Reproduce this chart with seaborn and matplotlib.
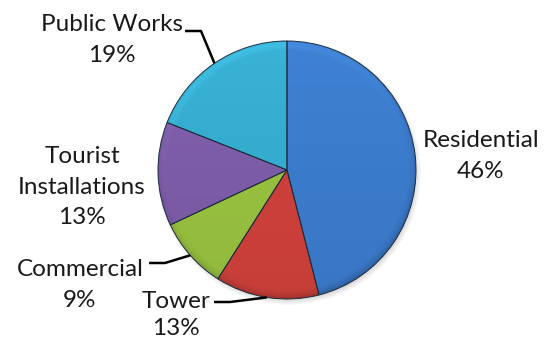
import numpy as np
import matplotlib
matplotlib.use("Agg")
import matplotlib.pyplot as plt
import seaborn as sns
from matplotlib.colors import to_rgb

# Building permits by category (share of total, %)
categories = ["Residential", "Tower", "Commercial", "Tourist\nInstallations", "Public Works"]
shares = [46, 13, 9, 13, 19]
slice_colors = ["#3b7bcb", "#cd403b", "#97bf3f", "#7c5ba7", "#35abcd"]

sns.set_theme(style="white")
plt.rcParams["font.family"] = ["Lato", "DejaVu Sans"]

W, H = 546, 341
fig = plt.figure(figsize=(W / 100, H / 100), dpi=100)
ax = fig.add_axes([0, 0, 1, 1])

cx, cy, R = 287, 171, 129
palette = sns.color_palette(slice_colors)

# soft drop shadow under the disc
for k in range(8):
    ax.add_patch(plt.Circle((cx + 2, cy - 3), R + 3 - k * 0.8,
                            color="black", alpha=0.02, lw=0, zorder=0))

wedges, _ = ax.pie(shares, colors=palette, startangle=90, counterclock=False,
                   center=(cx, cy), radius=R,
                   wedgeprops=dict(edgecolor="#1d2d3d", linewidth=0.7))

# bevel-style shading clipped to every wedge
n = 400
u, v = np.meshgrid(np.linspace(-1, 1, n), np.linspace(1, -1, n))
rho = np.sqrt(u ** 2 + v ** 2) + 1e-9
light = np.array([-0.3, 0.95])
facing = (u * light[0] + v * light[1]) / rho
rim = np.clip((rho - 0.93) / 0.07, 0, 1)
bright = 1.0 + 0.03 * v + rim * 0.12 * facing - rim ** 3 * 0.10

for w, col in zip(wedges, palette):
    base = np.array(to_rgb(col))
    img = np.clip(base[None, None, :] * bright[..., None]
                  + np.clip(bright - 1, 0, None)[..., None] * 0.3, 0, 1)
    im = ax.imshow(img, extent=[cx - R, cx + R, cy - R, cy + R],
                   origin="upper", zorder=1.5, interpolation="bilinear")
    im.set_clip_path(w)
    w.set_zorder(2)
    w.set_facecolor("none")

ax.set_xlim(0, W)
ax.set_ylim(0, H)
ax.set_aspect("equal")
ax.axis("off")

fs = 17.5
txt = dict(ha="center", va="center", fontsize=fs, color="#1a1a1a",
           linespacing=1.55)

# label anchor positions (x, y from top)
label_pos = [(481, 156), (176, 315), (80, 285), (82, 187), (112, 40)]
# leader line start (x, y from top) for the labels that have one
leader_start = {1: (214, 302), 2: (149, 263), 4: (185, 31)}

angles = []
a = 90.0
for s in shares:
    sweep = 360.0 * s / sum(shares)
    angles.append(np.deg2rad(a - sweep / 2))
    a -= sweep

for i, (name, s) in enumerate(zip(categories, shares)):
    lx, ly = label_pos[i]
    ls = 1.4 if i == 1 else 1.55
    ax.text(lx, H - ly, f"{name}\n{s}%", **{**txt, "linespacing": ls})
    if i in leader_start:
        sx, sy = leader_start[i]
        ex = cx + R * np.cos(angles[i])
        ey = cy + R * np.sin(angles[i])
        mx = sx + 16
        ax.plot([sx, mx, ex], [H - sy, H - sy, ey], color="black", lw=1.8,
                solid_capstyle="butt", zorder=3)

fig.savefig("out.png", dpi=100, facecolor="white")
